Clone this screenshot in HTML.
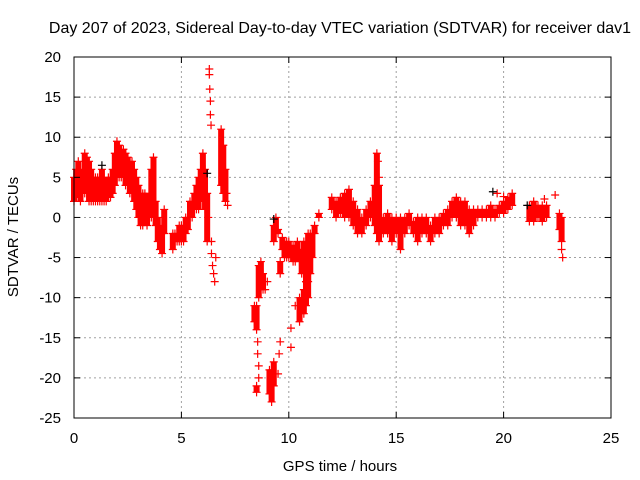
<!DOCTYPE html>
<html><head><meta charset="utf-8"><style>
body{margin:0;background:#fff;}
svg{display:block;font-family:"Liberation Sans",sans-serif;}
</style></head><body>
<svg id="chart" width="640" height="480">
<text x="340" y="33" font-size="16" text-anchor="middle">Day 207 of 2023, Sidereal Day-to-day VTEC variation (SDTVAR) for receiver dav1</text>
<text x="340" y="471" font-size="15" text-anchor="middle">GPS time / hours</text>
<text transform="translate(18,237) rotate(-90)" font-size="15" text-anchor="middle">SDTVAR / TECUs</text>
<g id="grid"></g><g id="marks"></g><g id="axes"></g>
</svg>
<script>
const xTicks=[0,5,10,15,20,25];
const yTicks=[20,15,10,5,0,-5,-10,-15,-20,-25];
// band samples: [time, low, high]
const bandT=[0,0.1,0.2,0.3,0.4,0.5,0.6,0.7,0.8,0.9,1.0,1.1,1.2,1.3,1.4,1.5,1.6,1.7,1.8,1.9,2.0,2.1,2.2,2.3,2.4,2.5,2.6,2.7,2.8,2.9,3.0,3.1,3.2,3.3,3.4,3.5,3.6,3.7,3.8,3.9,4.0,4.1,4.2,
4.6,4.7,4.8,4.9,5.0,5.1,5.2,5.3,5.4,5.5,5.6,5.7,5.8,5.9,6.0,6.1,6.2,6.85,6.95,7.05,
8.4,8.5,8.5,8.6,8.7,8.8,9.1,9.2,9.3,9.3,9.4,9.5,9.6,9.7,9.8,9.9,10.0,10.1,10.2,10.3,10.4,10.5,10.5,10.6,10.6,10.7,10.7,10.8,10.8,10.9,10.9,11.0,11.1,11.2,11.4,
12.0,12.2,12.4,12.6,12.8,13.0,13.2,13.4,13.6,13.8,14.0,14.1,14.2,14.4,14.6,14.8,15.0,15.2,15.4,15.6,15.8,16.0,16.2,16.4,16.6,16.8,17.0,17.2,17.4,17.6,17.8,18.0,18.2,18.4,18.6,18.8,19.0,19.2,19.4,19.6,19.8,20.0,20.2,20.4,
21.2,21.4,21.6,21.8,22.0,22.6,22.7];
const bandLo=[2,2.5,3,2,3,3,3,2,2,2,2,2,2,2,2,2,2.5,2.5,3,4,5,5,5,5,4,4,3,3,2,1,0,-1,-1,0,-1,0,0,1,-1,-3,-4,-4.5,-2,
-4,-3,-3,-3,-3,-3,-2,-1.5,0,0,1,1,1,2,4,1,-3,4,3,2,
-13,-14,-21.8,-10,-9,-9,-22,-23,-21,-3,-2,-2,-7,-4,-5,-5,-5,-5,-5.5,-5.5,-5,-13,-5.5,-12,-7,-12,-6,-11,-8,-10,-8,-7,-5,-2,0,
1,0,0.5,0,0,-1,-2,-2,-1,0,-1,-2,-3,-2,-2,-3,-2,-4,-2,-1,-2,-3,-2,-2,-3,-2,-2,-1,-1,0,0,-1,-1,-2,-1,0,0,0,0,0,0.5,0.5,1,1.5,
-0.5,-0.5,0,-0.5,0,-1.5,-3];
const bandHi=[5,6,7,5,6,8,7.5,7,6,5,5,5,5,6,5,4.5,5,5,6,8,9.5,9,8,8.5,8,7.5,7,7,6,5,4,3,3,3,2.5,3,6,7.5,2,0,-1,-2,1,
-2,-2,-2,-1,-1,-1,0,0,2,2,3,4,5,6,8,6,3,11,9,6,
-11,-11,-21,-6,-5.5,-7,-19,-19,-18,-1,0,-1.5,-5.5,-2.5,-3,-3,-3,-3.5,-3.5,-3.5,-3,-10,-4,-10,-4,-9,-3,-8,-3,-7,-2,-2,-2,-1,0.5,
2.5,2,2.5,3,3.5,2,1,0,1,2,4,8,4,0,0.5,0,0,0,0,0.5,-0.5,0,0,0,-1,0,0,0.5,1,2,2.5,2,2,1,1,1,1,1,1.5,1,1.5,2,2.5,3,
1.5,2,1.5,1.5,1.5,0.5,0];
// isolated points
const ptT=[6.3,6.3,6.32,6.35,6.35,6.38,6.4,6.4,6.45,6.5,6.55,6.6,7.1,7.15,8.55,8.55,8.6,8.6,9.0,9.5,9.55,9.6,10.1,10.1,10.3,8.9,19.7,20.0,21.9,22.4,22.75,22.7,14.15,14.2,6.25];
const ptV=[18.5,17.8,16,14.5,12.8,11.5,-3,-4.5,-6,-7,-8,-5,3,1.5,-15.5,-17,-18.5,-20,-8,-19.5,-17,-15.5,-16.2,-13.8,-11,-9,3,2.6,2.3,2.8,-5,-4,7,5,0];
const blackT=[1.3,9.3,19.5,21.1,6.2];
const blackV=[6.5,-0.2,3.2,1.5,5.5];

const X0=74,X1=611,Y0=418,Y1=57;
const xs=t=>X0+(t-0)/25*(X1-X0);
const ys=v=>Y0-(v+25)/45*(Y0-Y1);
const NS='http://www.w3.org/2000/svg';
const grid=document.getElementById('grid'),marks=document.getElementById('marks'),axes=document.getElementById('axes');
function mk(tag,a,p){const e=document.createElementNS(NS,tag);for(const k in a)e.setAttribute(k,a[k]);p.appendChild(e);return e;}
xTicks.forEach(t=>{const x=xs(t);
 if(t>0&&t<25){const g=mk('line',{x1:x,x2:x,y1:Y0,y2:Y1,stroke:'#a0a0a0','stroke-dasharray':'2,3'},grid);
 
 }
 mk('line',{x1:x,x2:x,y1:Y0,y2:Y0-6,stroke:'#000'},axes);mk('line',{x1:x,x2:x,y1:Y1,y2:Y1+6,stroke:'#000'},axes);
 const l=mk('text',{x:x,y:Y0+25,'font-size':15,'text-anchor':'middle'},axes);l.textContent=t;
 
 });
yTicks.forEach(v=>{const y=ys(v);
 if(v>-25&&v<20){const g=mk('line',{x1:X0,x2:X1,y1:y,y2:y,stroke:'#a0a0a0','stroke-dasharray':'2,3'},grid);
 
 }
 mk('line',{x1:X0,x2:X0+6,y1:y,y2:y,stroke:'#000'},axes);mk('line',{x1:X1,x2:X1-6,y1:y,y2:y,stroke:'#000'},axes);
 const l=mk('text',{x:X0-13,y:y+5,'font-size':15,'text-anchor':'end'},axes);l.textContent=v;
 
 });
const fr=mk('rect',{x:X0,y:Y1,width:X1-X0,height:Y0-Y1,fill:'none',stroke:'#000'},axes);


function cross(x,y,c){const g=mk('path',{d:`M${x-4},${y}h8M${x},${y-4}v8`,stroke:c,'stroke-width':1.2,fill:'none'},marks);
 
 }
bandT.forEach((t,i)=>{const x=xs(t),a=ys(bandLo[i]),b=ys(bandHi[i]);
 const r=mk('line',{x1:x,x2:x,y1:a,y2:b,stroke:'#ff0000','stroke-width':6},marks);
 
 
 cross(x,a,'#ff0000');cross(x,b,'#ff0000');});
ptT.forEach((t,i)=>cross(xs(t),ys(ptV[i]),'#ff0000'));
blackT.forEach((t,i)=>cross(xs(t),ys(blackV[i]),'#000'));
</script>
</body></html>
